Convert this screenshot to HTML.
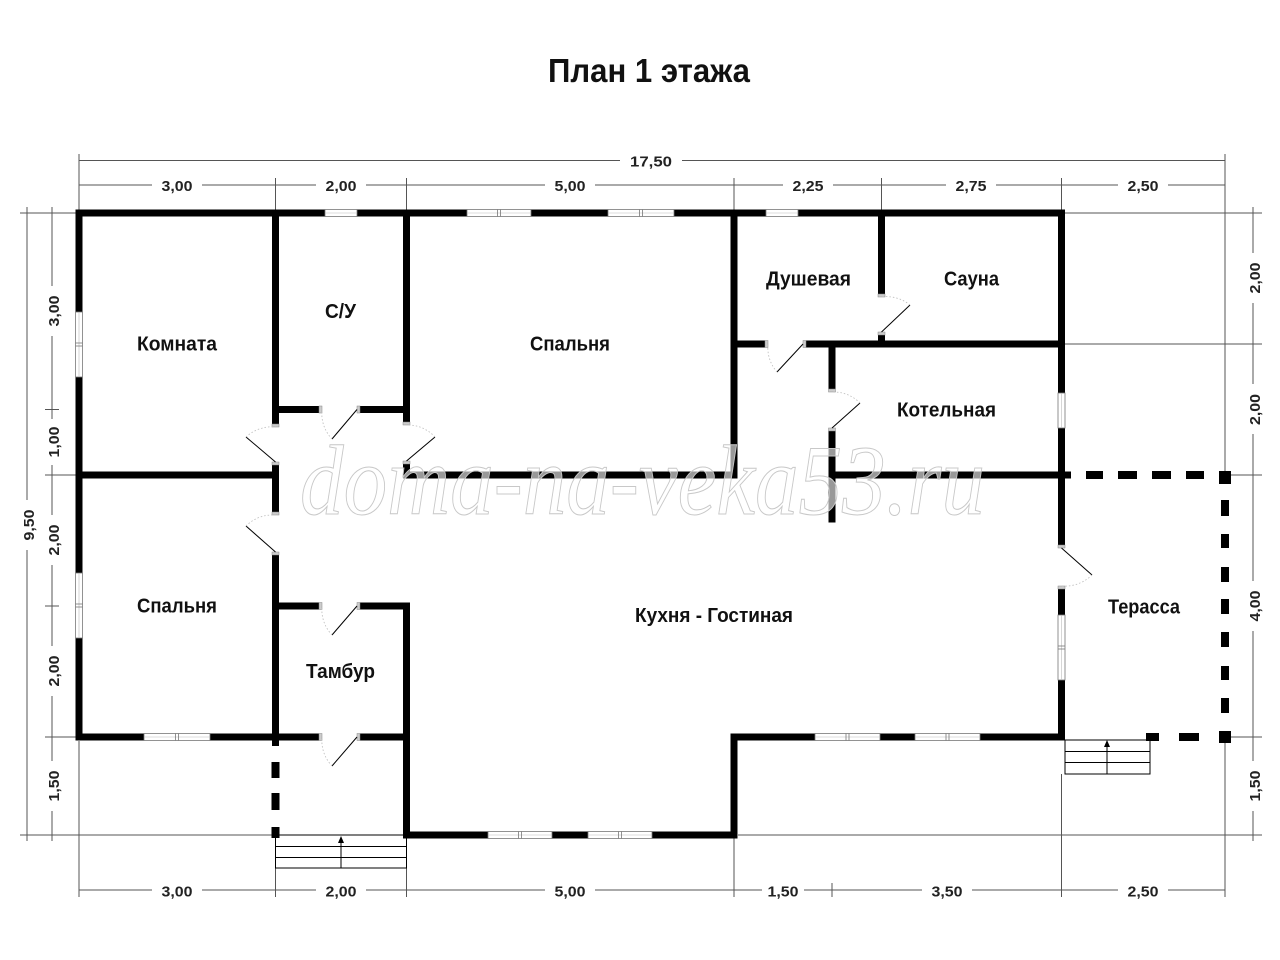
<!DOCTYPE html>
<html><head><meta charset="utf-8"><style>html,body{margin:0;padding:0;background:#fff}svg{display:block}</style></head>
<body>
<svg width="1280" height="960" viewBox="0 0 1280 960" xmlns="http://www.w3.org/2000/svg">
<rect width="1280" height="960" fill="#fff"/>

<!-- Title -->
<text x="548" y="82" font-family="'Liberation Sans', sans-serif" font-weight="bold" font-size="33" fill="#111" textLength="202" lengthAdjust="spacingAndGlyphs">План 1 этажа</text>

<!-- Dimension lines -->
<g stroke="#555" stroke-width="1" fill="none">
  <!-- top -->
  <line x1="79" y1="160.5" x2="1225" y2="160.5"/>
  <line x1="79" y1="185" x2="1225" y2="185"/>
  <line x1="79" y1="154" x2="79" y2="210"/>
  <line x1="1225" y1="154" x2="1225" y2="471"/>
  <line x1="275.5" y1="178" x2="275.5" y2="210"/>
  <line x1="406.5" y1="178" x2="406.5" y2="210"/>
  <line x1="734" y1="178" x2="734" y2="210"/>
  <line x1="881.5" y1="178" x2="881.5" y2="210"/>
  <line x1="1061.5" y1="178" x2="1061.5" y2="210"/>
  <!-- left -->
  <line x1="27" y1="207" x2="27" y2="841"/>
  <line x1="52" y1="207" x2="52" y2="841"/>
  <line x1="20" y1="213" x2="76" y2="213"/>
  <line x1="20" y1="835" x2="272" y2="835"/>
  <line x1="45" y1="475" x2="76" y2="475"/>
  <line x1="45" y1="737" x2="76" y2="737"/>
  <line x1="45" y1="409.5" x2="59" y2="409.5"/>
  <line x1="45" y1="606" x2="59" y2="606"/>
  <!-- right -->
  <line x1="1253" y1="207" x2="1253" y2="841"/>
  <line x1="1065" y1="213" x2="1262" y2="213"/>
  <line x1="1065" y1="344" x2="1262" y2="344"/>
  <line x1="1229" y1="475" x2="1262" y2="475"/>
  <line x1="1229" y1="737" x2="1262" y2="737"/>
  <line x1="738" y1="835" x2="1262" y2="835"/>
  <!-- bottom -->
  <line x1="79" y1="890" x2="1225" y2="890"/>
  <line x1="79" y1="741" x2="79" y2="897"/>
  <line x1="275.5" y1="868" x2="275.5" y2="897"/>
  <line x1="406.5" y1="868" x2="406.5" y2="897"/>
  <line x1="734" y1="838" x2="734" y2="897"/>
  <line x1="832" y1="883" x2="832" y2="897"/>
  <line x1="1061.5" y1="774" x2="1061.5" y2="897"/>
  <line x1="1225" y1="742" x2="1225" y2="897"/>
</g>

<!-- Dimension label backgrounds -->
<g fill="#fff">
  <rect x="620" y="152" width="62" height="18"/>
  <rect x="152" y="177" width="50" height="17"/>
  <rect x="316" y="177" width="50" height="17"/>
  <rect x="545" y="177" width="50" height="17"/>
  <rect x="783" y="177" width="50" height="17"/>
  <rect x="946" y="177" width="50" height="17"/>
  <rect x="1118" y="177" width="50" height="17"/>
  <rect x="152" y="882" width="50" height="17"/>
  <rect x="316" y="882" width="50" height="17"/>
  <rect x="545" y="882" width="50" height="17"/>
  <rect x="762" y="882" width="42" height="17"/>
  <rect x="922" y="882" width="50" height="17"/>
  <rect x="1118" y="882" width="50" height="17"/>
  <rect x="44" y="286" width="18" height="50"/>
  <rect x="44" y="419" width="18" height="46"/>
  <rect x="44" y="515" width="18" height="50"/>
  <rect x="44" y="646" width="18" height="50"/>
  <rect x="44" y="761" width="18" height="50"/>
  <rect x="19" y="500" width="18" height="50"/>
  <rect x="1245" y="253" width="18" height="50"/>
  <rect x="1245" y="384" width="18" height="50"/>
  <rect x="1245" y="581" width="18" height="50"/>
  <rect x="1245" y="761" width="18" height="50"/>
</g>

<!-- Dimension labels -->
<g font-family="'Liberation Sans', sans-serif" font-weight="bold" font-size="15" fill="#222" text-anchor="middle">
  <text x="651" y="166.5" textLength="42" lengthAdjust="spacingAndGlyphs">17,50</text>
  <text x="177" y="191" textLength="31" lengthAdjust="spacingAndGlyphs">3,00</text>
  <text x="341" y="191" textLength="31" lengthAdjust="spacingAndGlyphs">2,00</text>
  <text x="570" y="191" textLength="31" lengthAdjust="spacingAndGlyphs">5,00</text>
  <text x="808" y="191" textLength="31" lengthAdjust="spacingAndGlyphs">2,25</text>
  <text x="971" y="191" textLength="31" lengthAdjust="spacingAndGlyphs">2,75</text>
  <text x="1143" y="191" textLength="31" lengthAdjust="spacingAndGlyphs">2,50</text>
  <text x="177" y="896.5" textLength="31" lengthAdjust="spacingAndGlyphs">3,00</text>
  <text x="341" y="896.5" textLength="31" lengthAdjust="spacingAndGlyphs">2,00</text>
  <text x="570" y="896.5" textLength="31" lengthAdjust="spacingAndGlyphs">5,00</text>
  <text x="783" y="896.5" textLength="31" lengthAdjust="spacingAndGlyphs">1,50</text>
  <text x="947" y="896.5" textLength="31" lengthAdjust="spacingAndGlyphs">3,50</text>
  <text x="1143" y="896.5" textLength="31" lengthAdjust="spacingAndGlyphs">2,50</text>
  <text transform="translate(59,311) rotate(-90)" textLength="31" lengthAdjust="spacingAndGlyphs">3,00</text>
  <text transform="translate(59,442) rotate(-90)" textLength="31" lengthAdjust="spacingAndGlyphs">1,00</text>
  <text transform="translate(59,540) rotate(-90)" textLength="31" lengthAdjust="spacingAndGlyphs">2,00</text>
  <text transform="translate(59,671) rotate(-90)" textLength="31" lengthAdjust="spacingAndGlyphs">2,00</text>
  <text transform="translate(59,786) rotate(-90)" textLength="31" lengthAdjust="spacingAndGlyphs">1,50</text>
  <text transform="translate(34,525) rotate(-90)" textLength="31" lengthAdjust="spacingAndGlyphs">9,50</text>
  <text transform="translate(1260,278) rotate(-90)" textLength="31" lengthAdjust="spacingAndGlyphs">2,00</text>
  <text transform="translate(1260,409.5) rotate(-90)" textLength="31" lengthAdjust="spacingAndGlyphs">2,00</text>
  <text transform="translate(1260,606) rotate(-90)" textLength="31" lengthAdjust="spacingAndGlyphs">4,00</text>
  <text transform="translate(1260,786) rotate(-90)" textLength="31" lengthAdjust="spacingAndGlyphs">1,50</text>
</g>

<!-- Walls -->
<g fill="#000">
  <rect x="75.5" y="209.5" width="989.5" height="7"/>
  <rect x="75.5" y="209.5" width="7" height="531"/>
  <rect x="75.5" y="733.5" width="246.5" height="7"/>
  <rect x="272" y="209.5" width="7" height="217.5"/>
  <rect x="272" y="462" width="7" height="53"/>
  <rect x="272" y="552" width="7" height="194"/>
  <rect x="75.5" y="471.5" width="203.5" height="7"/>
  <rect x="272" y="406" width="50" height="7"/>
  <rect x="357" y="406" width="53" height="7"/>
  <rect x="403" y="209.5" width="7" height="215.5"/>
  <rect x="403" y="461" width="7" height="17.5"/>
  <rect x="403" y="471.5" width="334.5" height="7"/>
  <rect x="730.5" y="209.5" width="7" height="269"/>
  <rect x="730.5" y="340.5" width="37.5" height="7"/>
  <rect x="803" y="340.5" width="262" height="7"/>
  <rect x="878" y="209.5" width="7" height="87.5"/>
  <rect x="878" y="332" width="7" height="12"/>
  <rect x="828.5" y="344" width="7" height="48"/>
  <rect x="828.5" y="428" width="7" height="94.5"/>
  <rect x="828.5" y="471.5" width="242.5" height="7"/>
  <rect x="1058" y="209.5" width="7" height="338.5"/>
  <rect x="1058" y="586" width="7" height="154.5"/>
  <rect x="730.5" y="733.5" width="334.5" height="7"/>
  <rect x="730.5" y="733.5" width="7" height="105"/>
  <rect x="403" y="831.5" width="334.5" height="7"/>
  <rect x="403" y="602.5" width="7" height="236"/>
  <rect x="272" y="602.5" width="50" height="7"/>
  <rect x="357" y="602.5" width="53" height="7"/>
  <rect x="357" y="733.5" width="53" height="7"/>
  <!-- dashed porch wall -->
  <rect x="271.5" y="762" width="8" height="16"/>
  <rect x="271.5" y="793" width="8" height="17"/>
  <rect x="271.5" y="827" width="8" height="11"/>
  <!-- terrace dashed -->
  <rect x="1086" y="471" width="17" height="8"/>
  <rect x="1118" y="471" width="19" height="8"/>
  <rect x="1152" y="471" width="19" height="8"/>
  <rect x="1186" y="471" width="18" height="8"/>
  <rect x="1219" y="471" width="12" height="13"/>
  <rect x="1221" y="500" width="8" height="16"/>
  <rect x="1221" y="534" width="8" height="14"/>
  <rect x="1221" y="567" width="8" height="15"/>
  <rect x="1221" y="599" width="8" height="15"/>
  <rect x="1221" y="632" width="8" height="15"/>
  <rect x="1221" y="666" width="8" height="14"/>
  <rect x="1221" y="698" width="8" height="15"/>
  <rect x="1219" y="731" width="12" height="12"/>
  <rect x="1146" y="733" width="13" height="8"/>
  <rect x="1179" y="733" width="20" height="8"/>
</g>

<!-- Windows -->
<g fill="#fff" stroke="#777" stroke-width="0.8">
  <!-- top wall -->
  <rect x="325" y="209.5" width="32" height="7"/>
  <rect x="467" y="209.5" width="64" height="7"/>
  <rect x="608" y="209.5" width="66" height="7"/>
  <rect x="766" y="209.5" width="32" height="7"/>
  <!-- y=737 -->
  <rect x="144" y="733.5" width="66" height="7"/>
  <rect x="815" y="733.5" width="65" height="7"/>
  <rect x="915" y="733.5" width="65" height="7"/>
  <!-- y=835 -->
  <rect x="488" y="831.5" width="64" height="7"/>
  <rect x="588" y="831.5" width="64" height="7"/>
  <!-- left wall -->
  <rect x="75.5" y="312" width="7" height="65"/>
  <rect x="75.5" y="573" width="7" height="65"/>
  <!-- right wall -->
  <rect x="1058" y="393" width="7" height="35"/>
  <rect x="1058" y="615" width="7" height="65"/>
</g>
<g stroke="#bbb" stroke-width="0.6">
  <line x1="325" y1="213" x2="357" y2="213"/>
  <line x1="467" y1="213" x2="531" y2="213"/>
  <line x1="608" y1="213" x2="674" y2="213"/>
  <line x1="766" y1="213" x2="798" y2="213"/>
  <line x1="144" y1="737" x2="210" y2="737"/>
  <line x1="815" y1="737" x2="880" y2="737"/>
  <line x1="915" y1="737" x2="980" y2="737"/>
  <line x1="488" y1="835" x2="552" y2="835"/>
  <line x1="588" y1="835" x2="652" y2="835"/>
  <line x1="79" y1="312" x2="79" y2="377"/>
  <line x1="79" y1="573" x2="79" y2="638"/>
  <line x1="1061.5" y1="393" x2="1061.5" y2="428"/>
  <line x1="1061.5" y1="615" x2="1061.5" y2="680"/>
</g>
<g stroke="#777" stroke-width="0.8">
  <line x1="497.5" y1="209.5" x2="497.5" y2="216.5"/><line x1="500.5" y1="209.5" x2="500.5" y2="216.5"/>
  <line x1="639.5" y1="209.5" x2="639.5" y2="216.5"/><line x1="642.5" y1="209.5" x2="642.5" y2="216.5"/>
  <line x1="175.5" y1="733.5" x2="175.5" y2="740.5"/><line x1="178.5" y1="733.5" x2="178.5" y2="740.5"/>
  <line x1="846" y1="733.5" x2="846" y2="740.5"/><line x1="849" y1="733.5" x2="849" y2="740.5"/>
  <line x1="946" y1="733.5" x2="946" y2="740.5"/><line x1="949" y1="733.5" x2="949" y2="740.5"/>
  <line x1="518.5" y1="831.5" x2="518.5" y2="838.5"/><line x1="521.5" y1="831.5" x2="521.5" y2="838.5"/>
  <line x1="618.5" y1="831.5" x2="618.5" y2="838.5"/><line x1="621.5" y1="831.5" x2="621.5" y2="838.5"/>
  <line x1="75.5" y1="343" x2="82.5" y2="343"/><line x1="75.5" y1="346" x2="82.5" y2="346"/>
  <line x1="75.5" y1="604" x2="82.5" y2="604"/><line x1="75.5" y1="607" x2="82.5" y2="607"/>
  <line x1="1058" y1="646" x2="1065" y2="646"/><line x1="1058" y1="649" x2="1065" y2="649"/>
</g>

<!-- Door caps -->
<g fill="#ccc" stroke="#888" stroke-width="0.5">
  <rect x="272" y="424" width="7" height="3"/>
  <rect x="272" y="462" width="7" height="3"/>
  <rect x="272" y="512" width="7" height="3"/>
  <rect x="272" y="552" width="7" height="3"/>
  <rect x="319" y="406" width="3" height="7"/>
  <rect x="357" y="406" width="3" height="7"/>
  <rect x="403" y="422" width="7" height="3"/>
  <rect x="403" y="461" width="7" height="3"/>
  <rect x="319" y="602.5" width="3" height="7"/>
  <rect x="357" y="602.5" width="3" height="7"/>
  <rect x="319" y="733.5" width="3" height="7"/>
  <rect x="357" y="733.5" width="3" height="7"/>
  <rect x="765" y="340.5" width="3" height="7"/>
  <rect x="803" y="340.5" width="3" height="7"/>
  <rect x="878" y="294" width="7" height="3"/>
  <rect x="878" y="332" width="7" height="3"/>
  <rect x="828.5" y="389" width="7" height="3"/>
  <rect x="828.5" y="428" width="7" height="3"/>
  <rect x="1058" y="545" width="7" height="3"/>
  <rect x="1058" y="586" width="7" height="3"/>
</g>

<!-- Door leaves -->
<g stroke="#000" stroke-width="1">
  <line x1="275.5" y1="462" x2="246" y2="437"/>
  <line x1="275.5" y1="552" x2="246" y2="526"/>
  <line x1="357" y1="409.5" x2="332" y2="439"/>
  <line x1="406.5" y1="461" x2="435" y2="437"/>
  <line x1="357" y1="606" x2="332" y2="635"/>
  <line x1="357" y1="737" x2="332" y2="766"/>
  <line x1="803" y1="344" x2="777" y2="372"/>
  <line x1="881.5" y1="332" x2="910" y2="305"/>
  <line x1="832" y1="428" x2="860" y2="403"/>
  <line x1="1061.5" y1="548" x2="1092" y2="575"/>
</g>
<!-- Door arcs -->
<g stroke="#bbb" stroke-width="0.8" fill="none" stroke-dasharray="1.5,2">
  <path d="M246 437 A38 38 0 0 1 275.5 427"/>
  <path d="M246 526 A38 38 0 0 1 275.5 515"/>
  <path d="M332 439 A37 37 0 0 1 322 409.5"/>
  <path d="M435 437 A37 37 0 0 0 406.5 425"/>
  <path d="M332 635 A37 37 0 0 1 322 606"/>
  <path d="M332 766 A37 37 0 0 1 322 737"/>
  <path d="M777 372 A37 37 0 0 1 768 344"/>
  <path d="M910 305 A37 37 0 0 0 881.5 297"/>
  <path d="M860 403 A37 37 0 0 0 832 392"/>
  <path d="M1092 575 A39 39 0 0 1 1061.5 586"/>
</g>

<!-- Stairs -->
<g stroke="#000" stroke-width="1" fill="none">
  <rect x="275.5" y="835" width="131" height="33"/>
  <line x1="275.5" y1="846.5" x2="406.5" y2="846.5"/>
  <line x1="275.5" y1="857.5" x2="406.5" y2="857.5"/>
  <line x1="341" y1="868" x2="341" y2="840"/>
  <rect x="1065" y="740" width="85" height="34"/>
  <line x1="1065" y1="751.5" x2="1150" y2="751.5"/>
  <line x1="1065" y1="762.5" x2="1150" y2="762.5"/>
  <line x1="1107" y1="774" x2="1107" y2="745"/>
</g>
<polygon points="341,836 338,843 344,843" fill="#000"/>
<polygon points="1107,740 1104,747 1110,747" fill="#000"/>

<!-- Watermark -->
<text x="300" y="514" font-family="'Liberation Serif', serif" font-style="italic" font-size="100" fill="#fff" fill-opacity="0.6" stroke="#c8c8c8" stroke-width="1" textLength="685" lengthAdjust="spacingAndGlyphs">doma-na-veka53.ru</text>

<!-- Room labels -->
<g font-family="'Liberation Sans', sans-serif" font-weight="bold" font-size="20" fill="#111">
  <text x="137" y="350.5" textLength="80" lengthAdjust="spacingAndGlyphs">Комната</text>
  <text x="325" y="318" textLength="31" lengthAdjust="spacingAndGlyphs">С/У</text>
  <text x="530" y="350.5" textLength="80" lengthAdjust="spacingAndGlyphs">Спальня</text>
  <text x="766" y="285.5" textLength="85" lengthAdjust="spacingAndGlyphs">Душевая</text>
  <text x="944" y="285.5" textLength="55" lengthAdjust="spacingAndGlyphs">Сауна</text>
  <text x="897" y="416.5" textLength="99" lengthAdjust="spacingAndGlyphs">Котельная</text>
  <text x="137" y="612.5" textLength="80" lengthAdjust="spacingAndGlyphs">Спальня</text>
  <text x="306" y="678" textLength="69" lengthAdjust="spacingAndGlyphs">Тамбур</text>
  <text x="635" y="622" textLength="158" lengthAdjust="spacingAndGlyphs">Кухня - Гостиная</text>
  <text x="1108" y="613.5" textLength="72" lengthAdjust="spacingAndGlyphs">Терасса</text>
</g>
</svg>
</body></html>
